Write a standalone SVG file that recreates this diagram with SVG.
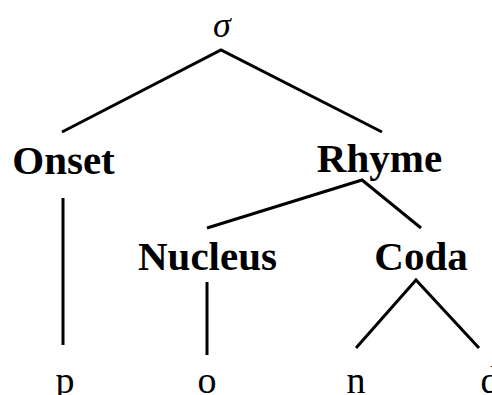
<svg xmlns="http://www.w3.org/2000/svg" width="492" height="395" viewBox="0 0 492 395">
<style>
.lbl{font-family:"Liberation Serif",serif;font-weight:bold;font-size:41px;fill:#000;text-anchor:middle}
.leaf{font-family:"Liberation Serif",serif;font-size:38px;fill:#000;text-anchor:middle}
.root{font-family:"Liberation Serif",serif;font-style:italic;font-size:36px;fill:#000;text-anchor:middle}
.edge{stroke:#000;stroke-width:3;fill:none}
</style>
<rect width="492" height="395" fill="#fff"/>
<g id="connectors">
<polyline class="edge" points="62,132 221,50 382,132"/>
<polyline class="edge" points="207,228 362,180 421,228"/>
<line class="edge" x1="63" y1="198" x2="63" y2="345"/>
<line class="edge" x1="207" y1="282" x2="207" y2="355"/>
<polyline class="edge" points="356,348 416,280 479,348"/>
</g>
<g id="sigma"><text class="root" x="222" y="37">σ</text></g>
<g id="onset"><text class="lbl" x="63.5" y="174">Onset</text></g>
<g id="rhyme"><text class="lbl" x="379.5" y="172">Rhyme</text></g>
<g id="nucleus"><text class="lbl" x="207.5" y="270">Nucleus</text></g>
<g id="coda"><text class="lbl" x="421" y="270">Coda</text></g>
<g id="p"><text class="leaf" x="65" y="393">p</text></g>
<g id="o"><text class="leaf" x="207" y="393">o</text></g>
<g id="n"><text class="leaf" x="356" y="393">n</text></g>
<g id="d"><text class="leaf" x="490" y="393">d</text></g>
</svg>
